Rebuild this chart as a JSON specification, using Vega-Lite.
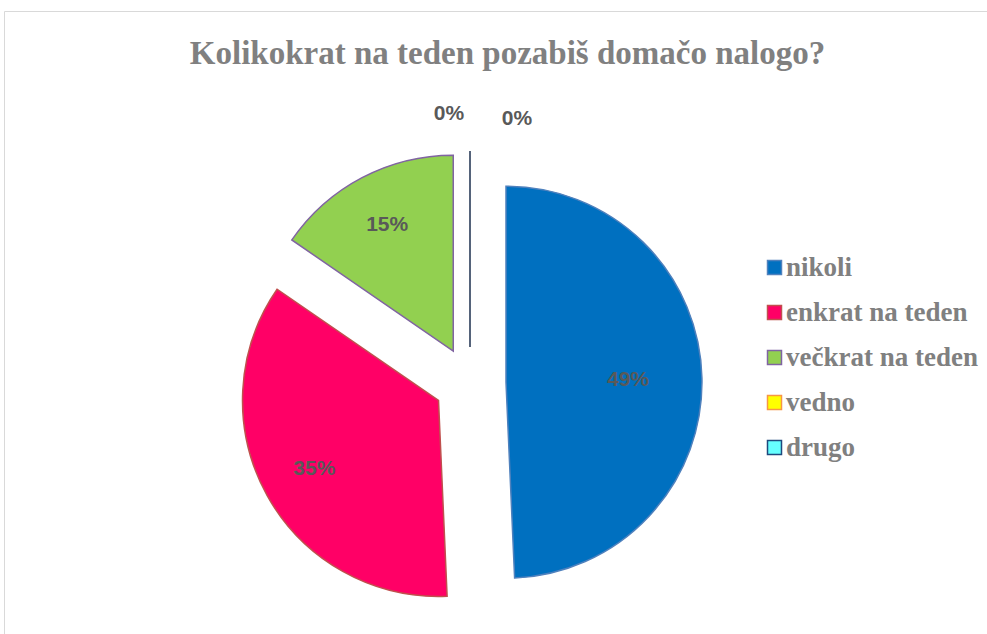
{
  "$schema": "https://vega.github.io/schema/vega-lite/v6.json",
  "width": 983,
  "height": 623,
  "padding": {"left": 4, "top": 11, "right": 0, "bottom": 0},
  "autosize": {"type": "none"},
  "background": "white",
  "config": {"view": {"stroke": "#D9D9D9", "strokeWidth": 1}},
  "title": {
    "text": "Kolikokrat na teden pozabiš domačo nalogo?",
    "font": "Liberation Serif",
    "fontSize": 33,
    "fontWeight": "bold",
    "color": "#808080",
    "anchor": "middle",
    "dx": 12,
    "offset": -60
  },
  "data": {
    "values": [
      {"i": 1, "kategorija": "nikoli", "delez": 0.493},
      {"i": 2, "kategorija": "enkrat na teden", "delez": 0.353},
      {"i": 3, "kategorija": "večkrat na teden", "delez": 0.154},
      {"i": 4, "kategorija": "vedno", "delez": 0},
      {"i": 5, "kategorija": "drugo", "delez": 0}
    ]
  },
  "transform": [
    {"window": [{"op": "sum", "field": "delez", "as": "kum"}], "sort": [{"field": "i"}], "frame": [null, 0]},
    {"joinaggregate": [{"op": "sum", "field": "delez", "as": "skupaj"}]},
    {"calculate": "(datum.kum - datum.delez / 2) / datum.skupaj * 2 * PI", "as": "sredina"}
  ],
  "encoding": {
    "theta": {"field": "delez", "type": "quantitative", "stack": true},
    "order": {"field": "i", "type": "quantitative"},
    "x": {"value": 466},
    "y": {"value": 372}
  },
  "layer": [
    {
      "mark": {
        "type": "arc",
        "radius": 196,
        "strokeWidth": 1.5,
        "xOffset": {"expr": "36 * sin(datum.sredina)"},
        "yOffset": {"expr": "-36 * cos(datum.sredina)"}
      },
      "encoding": {
        "color": {
          "field": "kategorija",
          "type": "nominal",
          "scale": {
            "domain": ["nikoli", "enkrat na teden", "večkrat na teden", "vedno", "drugo"],
            "range": ["#0070C0", "#FF0066", "#92D050", "#FFFF00", "#66FFFF"]
          },
          "legend": {
            "orient": "none",
            "legendX": 757,
            "legendY": 243,
            "title": null,
            "symbolType": "square",
            "symbolSize": 196,
            "symbolStrokeWidth": 1.5,
            "labelFont": "Liberation Serif",
            "labelFontSize": 27,
            "labelFontWeight": "bold",
            "labelColor": "#808080",
            "rowPadding": 17,
            "labelOffset": -2,
            "labelLimit": 400
          }
        },
        "stroke": {
          "field": "kategorija",
          "type": "nominal",
          "scale": {
            "domain": ["nikoli", "enkrat na teden", "večkrat na teden", "vedno", "drugo"],
            "range": ["#4F81BD", "#C0504D", "#8064A2", "#F79646", "#1F497D"]
          },
          "legend": {
            "orient": "none",
            "legendX": 757,
            "legendY": 243,
            "title": null,
            "symbolType": "square",
            "symbolSize": 196,
            "symbolStrokeWidth": 1.5,
            "labelFont": "Liberation Serif",
            "labelFontSize": 27,
            "labelFontWeight": "bold",
            "labelColor": "#808080",
            "rowPadding": 17,
            "labelOffset": -2,
            "labelLimit": 400
          }
        }
      }
    },
    {
      "transform": [{"filter": "datum.delez > 0"}],
      "mark": {
        "type": "text",
        "radius": {"expr": "datum.kategorija === 'nikoli' ? 122 : 142"},
        "font": "Liberation Sans",
        "fontSize": 21,
        "fontWeight": "bold",
        "fill": "#595959",
        "xOffset": {"expr": "36 * sin(datum.sredina)"},
        "yOffset": {"expr": "-36 * cos(datum.sredina)"}
      },
      "encoding": {
        "text": {"field": "delez", "type": "quantitative", "format": ".0%"}
      }
    },
    {
      "transform": [{"filter": "datum.delez === 0"}],
      "mark": {
        "type": "text",
        "radius": 232,
        "font": "Liberation Sans",
        "fontSize": 21,
        "fontWeight": "bold",
        "fill": "#595959",
        "dx": {"expr": "datum.kategorija === 'vedno' ? -21 : 47"},
        "dy": {"expr": "datum.kategorija === 'vedno' ? -1 : 4"},
        "xOffset": {"expr": "36 * sin(datum.sredina)"},
        "yOffset": {"expr": "-36 * cos(datum.sredina)"}
      },
      "encoding": {
        "text": {"field": "delez", "type": "quantitative", "format": ".0%"}
      }
    }
  ]
}
